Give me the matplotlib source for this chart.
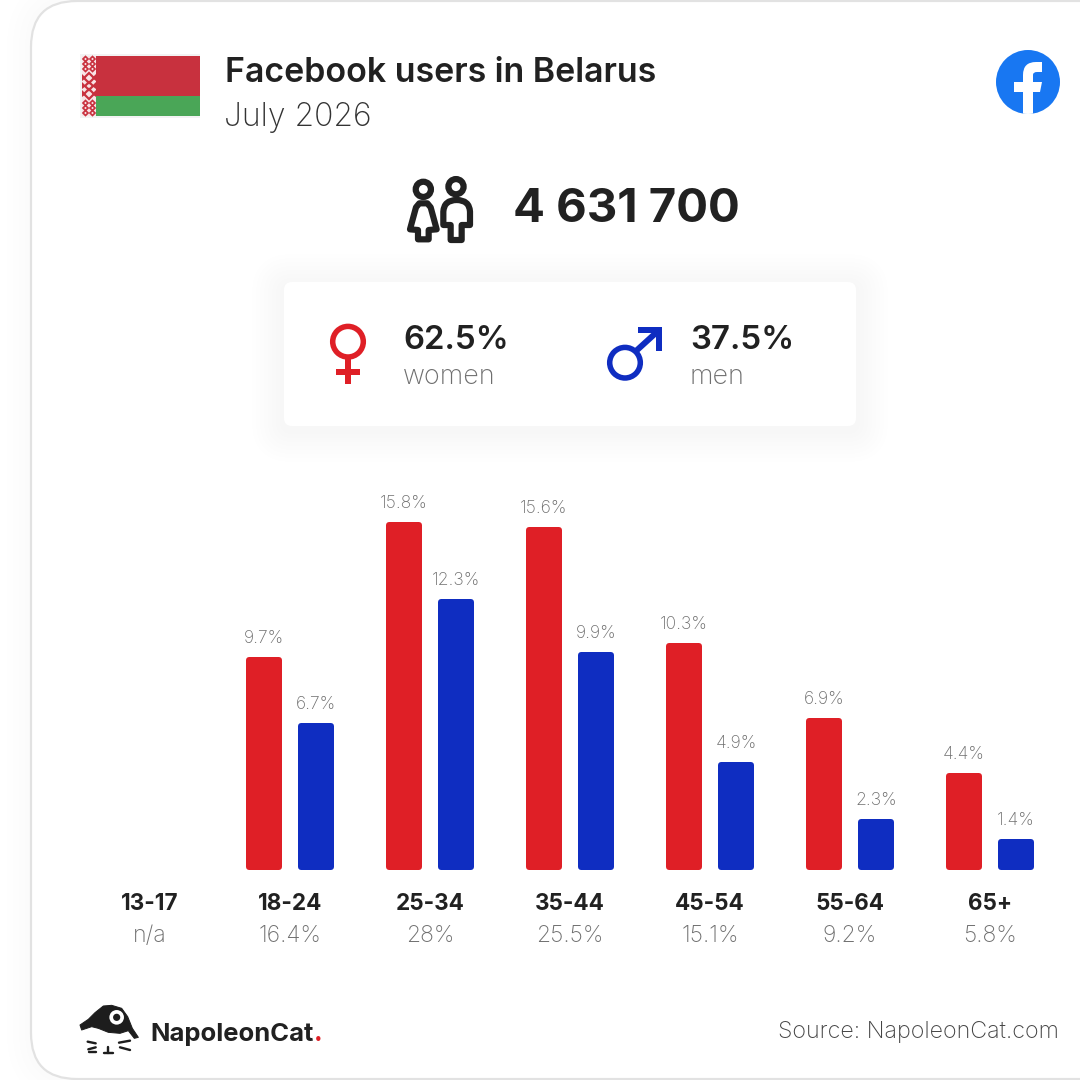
import numpy as np
import matplotlib
matplotlib.use('Agg')
import matplotlib.pyplot as plt
from matplotlib.patches import FancyBboxPatch, Circle, Rectangle, Polygon, PathPatch
from matplotlib.path import Path

# data
age_groups = ['13-17', '18-24', '25-34', '35-44', '45-54', '55-64', '65+']
age_totals = ['n/a', '16.4%', '28%', '25.5%', '15.1%', '9.2%', '5.8%']
women = [np.nan, 9.7, 15.8, 15.6, 10.3, 6.9, 4.4]
men = [np.nan, 6.7, 12.3, 9.9, 4.9, 2.3, 1.4]
title = 'Facebook users in Belarus'
subtitle = 'July 2026'
total_users = '4 631 700'
women_share = '62.5%'
men_share = '37.5%'
source = 'Source: NapoleonCat.com'

RED = '#DF1F26'
BLUE = '#0F2DC1'
DARK = '#212121'
GRAY = '#6f6f6f'
FONT = 'Inter'
PX = 0.72  # 1 px in points at dpi 100

plt.rcParams['font.family'] = [FONT, 'DejaVu Sans']
fig = plt.figure(figsize=(10.8, 10.8), dpi=100, facecolor='#ffffff')

# background layer in pixel coordinates
bg = fig.add_axes([0, 0, 1, 1])
bg.set_xlim(0, 1080)
bg.set_ylim(1080, 0)
bg.axis('off')


def rbox(x0, y0, x1, y1, r, **kw):
    p = FancyBboxPatch((x0 + r, y0 + r), x1 - x0 - 2 * r, y1 - y0 - 2 * r,
                       boxstyle='round,pad=%f,rounding_size=%f' % (r, r), **kw)
    bg.add_patch(p)
    return p


# card with a soft shadow, alpha below 0.004 would round away to nothing
for g in (24, 18, 12, 6):
    rbox(31 - g, 1 - g, 1200, 1079 + g, 46 + g, fc='#000000', ec='none', alpha=0.004)
rbox(31, 1, 1200, 1079, 46, fc='white', ec='#e2e2e2', lw=2.2 * PX)

# flag
FLAG_RED = '#C8313E'
bg.add_patch(Rectangle((80, 54), 120, 64, fc='#f3f3f3', ec='none'))
bg.add_patch(Rectangle((82, 56), 14, 60, fc='#f8e4e6', ec='none'))
bg.add_patch(Rectangle((96, 56), 104, 40, fc=FLAG_RED, ec='none'))
bg.add_patch(Rectangle((96, 96), 104, 20, fc='#4AA657', ec='none'))
for cy, s in [(59, 2.5), (64, 2.5), (69, 2.5), (103, 2.5), (108, 2.5), (113, 2.5)]:
    for cx in (85.5, 92.5):
        bg.add_patch(Polygon([(cx - s, cy), (cx, cy - s), (cx + s, cy), (cx, cy + s)], closed=True,
                             fc='none', ec=FLAG_RED, lw=1.7 * PX))
for cy, s in [(78, 5), (86, 4), (94, 5)]:
    bg.add_patch(Polygon([(89 - s, cy), (89, cy - s), (89 + s, cy), (89, cy + s)], closed=True,
                         fc='none', ec=FLAG_RED, lw=2.2 * PX))
for cy in (76, 84, 92):
    bg.add_patch(Polygon([(82, cy - 2), (86, cy + 2), (82, cy + 5)], closed=True, fc=FLAG_RED, ec='none'))
    bg.add_patch(Polygon([(96, cy - 2), (92, cy + 2), (96, cy + 5)], closed=True, fc=FLAG_RED, ec='none'))

bg.text(225, 82, title, fontsize=33.9 * PX, fontweight='semibold', color=DARK, va='baseline')
bg.text(224, 126, subtitle, fontsize=32 * PX, fontweight='light', color='#333333', va='baseline')

# facebook logo
fb = Circle((1028, 82), 32, fc='#1877F2', ec='none')
bg.add_patch(fb)
f_verts = [(1023, 116), (1023, 92), (1014, 92), (1014, 82), (1023, 82), (1023, 75),
           (1023, 62), (1036, 62), (1042, 62), (1042, 72), (1037, 72),
           (1033, 72), (1033, 75), (1033, 82), (1042, 82), (1040, 92), (1033, 92), (1033, 116), (1023, 116)]
f_codes = [Path.MOVETO, Path.LINETO, Path.LINETO, Path.LINETO, Path.LINETO, Path.LINETO,
           Path.CURVE3, Path.CURVE3, Path.LINETO, Path.LINETO, Path.LINETO,
           Path.CURVE3, Path.CURVE3, Path.LINETO, Path.LINETO, Path.LINETO, Path.LINETO, Path.LINETO, Path.CLOSEPOLY]
f_patch = PathPatch(Path(f_verts, f_codes), fc='white', ec='none')
bg.add_patch(f_patch)
f_patch.set_clip_path(fb)


# people icon, coordinates from a 3x crop
def z(x, y):
    return 390 + x / 3, 160 + y / 3


lw_icon = 6.2 * PX
bg.add_patch(Circle(z(100, 88), 7.6, fc='none', ec=DARK, lw=lw_icon))
bg.add_patch(Circle(z(198, 80), 7.6, fc='none', ec=DARK, lw=lw_icon))
woman_pts = [(88, 130), (112, 130), (122, 142), (140, 208), (116, 210), (116, 238), (84, 238), (84, 210), (60, 208), (78, 142)]
bg.add_patch(Polygon([z(*p) for p in woman_pts], closed=True, fc='none', ec=DARK, lw=lw_icon, joinstyle='round'))
man_verts = [z(*p) for p in [(160, 195), (160, 155), (162, 120), (200, 120), (238, 120), (240, 155), (240, 195),
                             (215, 195), (215, 240), (182, 240), (182, 195), (160, 195)]]
man_codes = [Path.MOVETO, Path.LINETO, Path.CURVE3, Path.CURVE3, Path.CURVE3, Path.CURVE3, Path.LINETO,
             Path.LINETO, Path.LINETO, Path.LINETO, Path.LINETO, Path.CLOSEPOLY]
bg.add_patch(PathPatch(Path(man_verts, man_codes), fc='none', ec=DARK, lw=lw_icon, joinstyle='round'))

bg.text(513, 222, total_users, fontsize=47.2 * PX, fontweight='bold', color=DARK, va='baseline')

# white panel with shadow
for g in (32, 28, 24, 20, 16, 12, 8, 4):
    rbox(284 - g, 282 - g + 4, 856 + g, 426 + g + 4, 8 + g, fc='#000000', ec='none', alpha=0.004)
rbox(284, 282, 856, 426, 8, fc='white', ec='none')

# female sign
bg.add_patch(Circle((348, 341.7), 15.3, fc='none', ec=RED, lw=5.5 * PX))
bg.add_patch(Rectangle((345, 358), 6, 26, fc=RED, ec='none'))
bg.add_patch(Rectangle((336, 369), 24, 6, fc=RED, ec='none'))
# male sign
bg.add_patch(Circle((625, 362.7), 15.3, fc='none', ec=BLUE, lw=5.5 * PX))
bg.add_patch(Polygon([(637.5, 327), (662, 327), (662, 351), (656, 351), (656, 333), (637.5, 333)], closed=True, fc=BLUE, ec='none'))
bg.plot([636, 658], [351, 331], color=BLUE, lw=6 * PX, solid_capstyle='butt')

bg.text(403, 349, women_share, fontsize=33 * PX, fontweight='semibold', color=DARK, va='baseline')
bg.text(403, 384, 'women', fontsize=27 * PX, fontweight='light', color=GRAY, va='baseline')
bg.text(690, 349, men_share, fontsize=33 * PX, fontweight='semibold', color=DARK, va='baseline')
bg.text(690, 384, 'men', fontsize=27 * PX, fontweight='light', color=GRAY, va='baseline')


# footer logo, coordinates from a 3x crop
def c(x, y):
    return 75 + x / 3, 1000 + y / 3


INK = '#1d1d1d'
hat = [(15, 75), (40, 58), (60, 38), (85, 18), (110, 16), (140, 25), (158, 50), (172, 85), (190, 112), (178, 115),
       (160, 92), (135, 100), (100, 97), (70, 85), (50, 80), (20, 90)]
bg.add_patch(Polygon([c(*p) for p in hat], closed=True, fc=INK, ec=INK, lw=1 * PX, joinstyle='round'))
bg.add_patch(Circle(c(125, 52), 7.3, fc='white', ec='none'))
bg.add_patch(Circle(c(125, 52), 3.6, fc=INK, ec='none'))
for a, b in [((38, 125), (62, 130)), ((40, 148), (62, 142)), ((42, 155), (62, 155)),
             ((132, 128), (165, 122)), ((135, 142), (165, 150)), ((88, 158), (115, 158)), ((100, 140), (100, 158))]:
    bg.plot(*zip(c(*a), c(*b)), color=INK, lw=2.4 * PX, solid_capstyle='round')
bg.text(150, 1041, 'NapoleonCat', fontsize=25.6 * PX, fontweight='bold', color=DARK, va='baseline')
bg.text(314, 1041, '.', fontsize=26 * PX, fontweight='bold', color=RED, va='baseline')
bg.text(1059, 1038, source, fontsize=23.3 * PX, fontweight='light', color='#444444', ha='right', va='baseline')

# bar chart, 140 px per age group and 22 px per percentage point
ax = fig.add_axes([80 / 1080, (1080 - 870) / 1080, 980 / 1080, 400 / 1080])
ax.patch.set_alpha(0)
ax.set_xlim(-0.5, 6.5)
ax.set_ylim(0, 400 / 22)
for s in ax.spines.values():
    s.set_visible(False)
ax.yaxis.set_visible(False)
ax.set_xticks(range(len(age_groups)))
ax.set_xticklabels(age_groups, fontsize=22.5 * PX, fontweight='bold', color=DARK)
ax.tick_params(axis='x', length=0, pad=23 * PX)

x = np.arange(len(age_groups))
off = 26 / 140
edge = 6  # px of rounded outline, taken back from the bar size
inset = edge / 2 / 22
for vals, col, pos in [(women, RED, x - off), (men, BLUE, x + off)]:
    vals = np.array(vals)
    bars = ax.bar(pos, vals - 2 * inset, width=(36 - edge) / 140, bottom=inset, color=col,
                  edgecolor=col, linewidth=edge * PX)
    for b in bars:
        b.set_joinstyle('round')
    for p, v in zip(pos, vals):
        if not np.isnan(v):
            ax.annotate('%.1f%%' % v, (p, v), xytext=(0, 10 * PX), textcoords='offset points',
                        ha='center', va='bottom', fontsize=17.5 * PX, fontweight='light', color=GRAY)

for i, t in enumerate(age_totals):
    ax.annotate(t, (i, 0), xytext=(0, -72 * PX), textcoords='offset points', ha='center', va='baseline',
                fontsize=23 * PX, fontweight='light', color=GRAY, annotation_clip=False)

fig.savefig('out.png', dpi=100)
